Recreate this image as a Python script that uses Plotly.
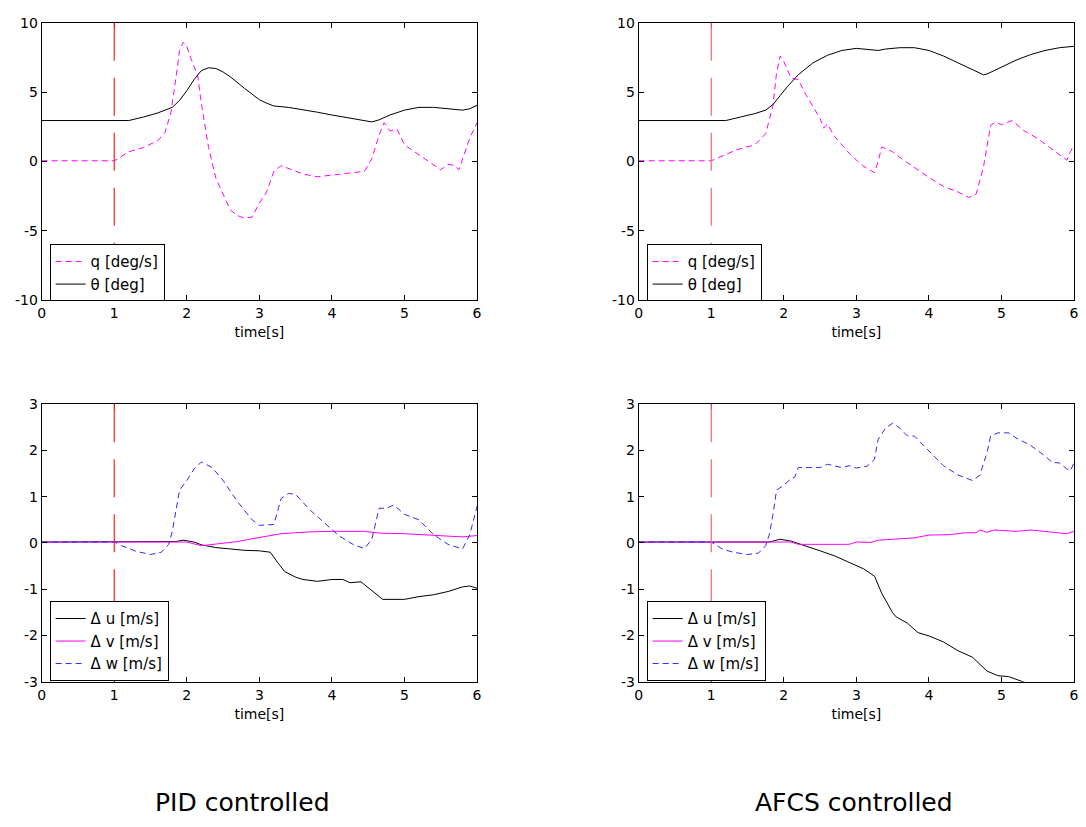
import plotly.graph_objects as go

# ---------------- data ----------------
event_time = 1.0

# PID, attitude
t_q_pid = [0, 1.0, 1.05, 1.2, 1.4, 1.6, 1.7, 1.78, 1.85, 1.9, 1.95, 2.0, 2.05, 2.15, 2.2, 2.3, 2.4, 2.5, 2.6,
           2.7, 2.8, 2.9, 3.0, 3.1, 3.2, 3.3, 3.4, 3.6, 3.8, 4.0, 4.3, 4.45, 4.55, 4.65, 4.72, 4.8, 4.9, 5.0,
           5.2, 5.4, 5.5, 5.6, 5.7, 5.75, 5.8, 5.9, 6.0]
q_pid = [0.05, 0.05, 0.2, 0.7, 1.0, 1.5, 2.1, 3.5, 6.0, 8.0, 8.6, 8.3, 7.5, 6.2, 4.2, 1.0, -1.2, -2.3, -3.5,
         -3.9, -4.1, -4.0, -3.0, -2.2, -0.7, -0.3, -0.5, -0.9, -1.1, -1.0, -0.8, -0.7, 0.2, 1.9, 2.8, 2.2, 2.3, 1.2,
         0.5, -0.2, -0.6, -0.2, -0.3, -0.6, 0.2, 1.7, 2.8]
t_th_pid = [0, 1.2, 1.4, 1.6, 1.8, 1.9, 2.0, 2.1, 2.2, 2.3, 2.4, 2.5, 2.6, 2.7, 2.8, 2.9, 3.0, 3.1, 3.2, 3.4,
            3.6, 3.8, 4.0, 4.2, 4.4, 4.55, 4.65, 4.8, 5.0, 5.2, 5.4, 5.6, 5.8, 5.9, 6.0]
th_pid = [2.95, 2.95, 3.2, 3.5, 3.9, 4.4, 5.1, 5.9, 6.55, 6.75, 6.7, 6.45, 6.1, 5.65, 5.25, 4.85, 4.45, 4.2, 4.0,
          3.9, 3.75, 3.55, 3.35, 3.15, 3.0, 2.85, 3.0, 3.35, 3.7, 3.9, 3.9, 3.8, 3.7, 3.8, 4.05]

# AFCS, attitude
t_q_afcs = [0, 1.0, 1.2, 1.35, 1.6, 1.75, 1.85, 1.9, 1.95, 2.0, 2.1, 2.2, 2.3, 2.4, 2.5, 2.55, 2.6, 2.7, 2.9,
            3.0, 3.1, 3.25, 3.3, 3.35, 3.5, 3.65, 3.8, 4.0, 4.2, 4.4, 4.55, 4.65, 4.75, 4.85, 4.92, 5.0, 5.15,
            5.3, 5.5, 5.7, 5.9, 5.95, 6.0]
q_afcs = [0.05, 0.05, 0.5, 0.85, 1.2, 2.0, 4.0, 6.4, 7.6, 7.2, 6.0, 5.9, 4.85, 4.0, 3.1, 2.4, 2.7, 1.8, 0.6,
          0.1, -0.35, -0.8, 0.0, 1.05, 0.7, 0.1, -0.45, -1.15, -1.8, -2.2, -2.6, -2.35, -0.45, 2.6, 2.85, 2.65, 2.95,
          2.25, 1.65, 0.85, 0.1, 0.7, 1.2]
t_th_afcs = [0, 1.2, 1.4, 1.6, 1.75, 1.85, 1.95, 2.05, 2.2, 2.3, 2.4, 2.6, 2.8, 3.0, 3.2, 3.3, 3.4, 3.6, 3.8,
             4.0, 4.2, 4.4, 4.6, 4.75, 4.8, 5.0, 5.2, 5.4, 5.6, 5.8, 6.0]
th_afcs = [2.95, 2.95, 3.2, 3.45, 3.7, 4.1, 4.75, 5.4, 6.25, 6.7, 7.1, 7.65, 8.0, 8.15, 8.05, 8.0, 8.1, 8.2, 8.2,
           8.0, 7.6, 7.1, 6.6, 6.25, 6.3, 6.8, 7.3, 7.7, 8.0, 8.2, 8.3]

# PID, velocities
t_u_pid = [0, 1.8, 1.85, 1.95, 2.1, 2.2, 2.4, 2.6, 2.8, 3.0, 3.15, 3.25, 3.35, 3.5, 3.6, 3.8, 4.0, 4.15, 4.25,
           4.4, 4.55, 4.7, 5.0, 5.2, 5.4, 5.6, 5.8, 5.9, 6.0]
du_pid = [0.02, 0.02, 0.03, 0.06, 0.02, -0.04, -0.1, -0.13, -0.16, -0.17, -0.2, -0.42, -0.62, -0.74, -0.79,
          -0.83, -0.79, -0.79, -0.86, -0.84, -1.02, -1.22, -1.22, -1.16, -1.12, -1.05, -0.95, -0.93, -0.98]
t_v_pid = [0, 2.0, 2.2, 2.5, 2.7, 2.9, 3.1, 3.3, 3.5, 3.7, 4.0, 4.45, 4.55, 4.7, 5.0, 5.5, 5.8, 6.0]
dv_pid = [0.02, 0.02, -0.06, -0.01, 0.03, 0.09, 0.14, 0.2, 0.22, 0.24, 0.25, 0.25, 0.23, 0.21, 0.2, 0.16, 0.13,
          0.16]
t_w_pid = [0, 1.0, 1.1, 1.3, 1.5, 1.65, 1.75, 1.8, 1.9, 2.0, 2.1, 2.2, 2.35, 2.5, 2.7, 2.9, 3.0, 3.2, 3.3, 3.4,
           3.5, 3.7, 3.9, 4.1, 4.3, 4.45, 4.55, 4.65, 4.75, 4.85, 5.0, 5.2, 5.4, 5.6, 5.8, 5.9, 6.0]
dw_pid = [0.02, 0.02, -0.06, -0.18, -0.25, -0.2, -0.03, 0.25, 1.14, 1.35, 1.6, 1.75, 1.63, 1.35, 0.89, 0.5,
          0.38, 0.4, 0.96, 1.07, 1.05, 0.71, 0.43, 0.15, -0.04, -0.12, 0.08, 0.75, 0.75, 0.82, 0.62, 0.5, 0.18,
          -0.03, -0.13, 0.18, 0.79]

# AFCS, velocities
t_u_afcs = [0, 1.8, 1.85, 1.95, 2.1, 2.3, 2.5, 2.7, 2.9, 3.1, 3.25, 3.35, 3.5, 3.55, 3.7, 3.85, 4.0, 4.2, 4.4,
            4.6, 4.8, 4.95, 5.1, 5.3, 5.5, 6.0]
du_afcs = [0.02, 0.02, 0.04, 0.08, 0.04, -0.06, -0.17, -0.28, -0.42, -0.56, -0.72, -1.09, -1.51, -1.6, -1.73,
           -1.94, -2.01, -2.14, -2.33, -2.47, -2.77, -2.87, -2.89, -3.0, -3.1, -3.4]
t_v_afcs = [0, 2.1, 2.2, 2.5, 2.9, 3.0, 3.2, 3.3, 3.5, 3.8, 4.0, 4.3, 4.5, 4.65, 4.7, 4.8, 4.9, 5.2, 5.4, 5.7,
            5.9, 6.0]
dv_afcs = [0.02, 0.02, -0.03, -0.03, -0.03, 0.02, 0.01, 0.06, 0.08, 0.11, 0.17, 0.18, 0.22, 0.22, 0.28, 0.23,
           0.28, 0.25, 0.28, 0.24, 0.2, 0.25]
t_w_afcs = [0, 1.0, 1.15, 1.3, 1.5, 1.65, 1.75, 1.8, 1.85, 1.9, 2.0, 2.1, 2.15, 2.2, 2.5, 2.6, 2.8, 2.9, 3.0,
            3.15, 3.25, 3.3, 3.4, 3.5, 3.6, 3.7, 3.8, 4.0, 4.2, 4.4, 4.6, 4.7, 4.8, 4.85, 4.95, 5.1, 5.2, 5.4,
            5.6, 5.7, 5.8, 5.9, 5.95, 6.0]
dw_afcs = [0.02, 0.02, -0.13, -0.2, -0.25, -0.22, -0.06, 0.18, 0.61, 1.14, 1.25, 1.39, 1.42, 1.63, 1.63, 1.7,
           1.63, 1.67, 1.62, 1.66, 1.81, 2.24, 2.48, 2.59, 2.48, 2.32, 2.31, 1.99, 1.67, 1.47, 1.35, 1.46, 1.95,
           2.31, 2.38, 2.38, 2.27, 2.11, 1.88, 1.74, 1.73, 1.6, 1.56, 1.74]

x_ticks = [0, 1, 2, 3, 4, 5, 6]
y_ticks_top = [-10, -5, 0, 5, 10]
y_ticks_bot = [-3, -2, -1, 0, 1, 2, 3]
panel_titles = ["PID controlled", "AFCS controlled"]

# ---------------- figure ----------------
FONT = "DejaVu Sans, Liberation Sans, Arial, sans-serif"
W, H = 1086, 827
MAG, BLUE, BLK = "#ff00ff", "#2a2aff", "#000000"
DASH = "6px,4px"


def px(x):
    return x / W


def py(y):
    return (H - y) / H


fig = go.Figure()


def add(x, y, name, color, dash, xa, ya, legend):
    fig.add_trace(go.Scatter(x=x, y=y, mode="lines", name=name,
                             line=dict(color=color, width=1, dash=dash),
                             xaxis=xa, yaxis=ya, legend=legend, hoverinfo="skip"))


add(t_q_pid, q_pid, "q [deg/s]", MAG, DASH, "x", "y", "legend")
add(t_th_pid, th_pid, "θ [deg]", BLK, "solid", "x", "y", "legend")
add(t_q_afcs, q_afcs, "q [deg/s]", MAG, DASH, "x2", "y2", "legend2")
add(t_th_afcs, th_afcs, "θ [deg]", BLK, "solid", "x2", "y2", "legend2")
add(t_u_pid, du_pid, "Δ u [m/s]", BLK, "solid", "x3", "y3", "legend3")
add(t_v_pid, dv_pid, "Δ v [m/s]", MAG, "solid", "x3", "y3", "legend3")
add(t_w_pid, dw_pid, "Δ w [m/s]", BLUE, DASH, "x3", "y3", "legend3")
add(t_u_afcs, du_afcs, "Δ u [m/s]", BLK, "solid", "x4", "y4", "legend4")
add(t_v_afcs, dv_afcs, "Δ v [m/s]", MAG, "solid", "x4", "y4", "legend4")
add(t_w_afcs, dw_afcs, "Δ w [m/s]", BLUE, DASH, "x4", "y4", "legend4")

xdom_l = [px(38), px(477)]
xdom_r = [px(640), px(1079)]
ydom_t = [py(298), py(15)]
ydom_b = [py(687), py(404)]

TICKFONT = dict(family=FONT, size=14, color="black")


def xaxis(dom, anchor):
    return dict(domain=dom, anchor=anchor, range=[0, 6], tickvals=x_ticks,
                ticktext=[str(v) for v in x_ticks], ticks="inside", ticklen=5, tickcolor="black",
                showline=True, linecolor="black", linewidth=1, mirror="ticks", showgrid=False,
                zeroline=False, tickfont=TICKFONT,
                title=dict(text="time[s]", font=dict(family=FONT, size=14, color="black"), standoff=7))


def yaxis(dom, anchor, rng, ticks):
    return dict(domain=dom, anchor=anchor, range=rng, tickvals=ticks,
                ticktext=[str(v) for v in ticks], ticks="inside", ticklen=5, tickcolor="black",
                showline=True, linecolor="black", linewidth=1, mirror="ticks", showgrid=False,
                zeroline=False, tickfont=TICKFONT)


def legend(xp, yp):
    return dict(x=px(xp), y=py(yp), xanchor="left", yanchor="top", bgcolor="white",
                bordercolor="black", borderwidth=1, font=dict(family=FONT, size=15, color="black"),
                itemwidth=30, tracegroupgap=0)


fig.update_layout(
    width=W, height=H, margin=dict(l=0, r=0, t=0, b=0),
    paper_bgcolor="white", plot_bgcolor="white", showlegend=True,
    xaxis=xaxis(xdom_l, "y"), yaxis=yaxis(ydom_t, "x", [-10, 10], y_ticks_top),
    xaxis2=xaxis(xdom_r, "y2"), yaxis2=yaxis(ydom_t, "x2", [-10, 10], y_ticks_top),
    xaxis3=xaxis(xdom_l, "y3"), yaxis3=yaxis(ydom_b, "x3", [-3, 3], y_ticks_bot),
    xaxis4=xaxis(xdom_r, "y4"), yaxis4=yaxis(ydom_b, "x4", [-3, 3], y_ticks_bot),
    legend=legend(46, 241), legend2=legend(648, 241),
    legend3=legend(46, 605), legend4=legend(648, 605),
)

# event marker lines (dash pattern starts at the top of each panel)
for xa, ya, col in [("x", "y", "#ff2020"), ("x2", "y2", "#f06a6a"),
                    ("x3", "y3", "#ff2020"), ("x4", "y4", "#f06a6a")]:
    fig.add_shape(type="line", xref=xa, yref=ya + " domain", x0=event_time, x1=event_time, y0=1, y1=0,
                  line=dict(color=col, width=1.2, dash="38px,17px"), layer="above")

for txt, xc in zip(panel_titles, [240, 857]):
    fig.add_annotation(text=txt, x=px(xc), y=py(810), xref="paper", yref="paper",
                       showarrow=False, xanchor="center", yanchor="middle",
                       font=dict(family=FONT, size=25, color="black"))

fig.write_html(
    "out.html",
    config={"displayModeBar": False},
    post_script="document.body.style.margin='0px';"
                "document.documentElement.style.overflow='hidden';"
                "document.body.style.overflow='hidden';",
)
